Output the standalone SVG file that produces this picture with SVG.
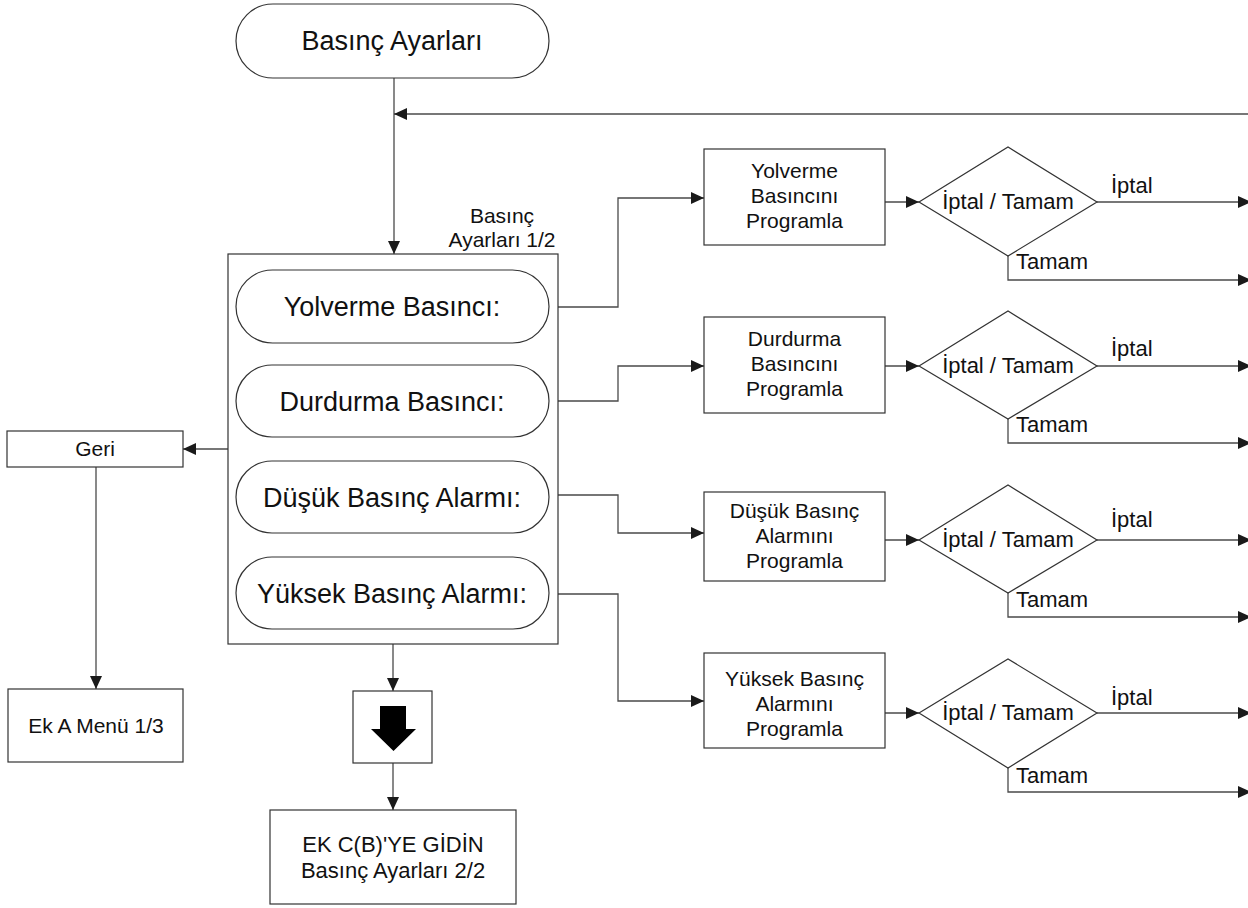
<svg xmlns="http://www.w3.org/2000/svg" width="1248" height="908" viewBox="0 0 1248 908">
  <defs>
    <marker id="ah" viewBox="0 0 13 12" refX="13" refY="6" markerWidth="13" markerHeight="12" markerUnits="userSpaceOnUse" orient="auto">
      <path d="M0,0 L13,6 L0,12 Z" fill="#1a1a1a"/>
    </marker>
    <style>
      .shape { fill: #ffffff; stroke: #333333; stroke-width: 1.2; }
      .conn { fill: none; stroke: #4a4a4a; stroke-width: 1.3; marker-end: url(#ah); }
      text { font-family: "Liberation Sans", Arial, sans-serif; fill: #111111; }
      .c { text-anchor: middle; }
      .big { font-size: 27px; }
      .mid { font-size: 21px; }
      .dec { font-size: 22px; }
    </style>
  </defs>

  <rect width="1248" height="908" fill="#ffffff"/>

  <!-- connectors -->
  <g id="connectors">
    <path class="conn" d="M394,78 L394,254"/>
    <path class="conn" d="M1248,114 L394,114"/>
    <path class="conn" d="M228,449 L183,449"/>
    <path class="conn" d="M96,467 L96,689"/>
    <path class="conn" d="M393,644 L393,691"/>
    <path class="conn" d="M393,763 L393,810"/>

    <!-- menu items to programming boxes -->
    <path class="conn" d="M558,307 L618,307 L618,198 L704,198"/>
    <path class="conn" d="M558,401 L618,401 L618,366 L704,366"/>
    <path class="conn" d="M558,495 L618,495 L618,533 L704,533"/>
    <path class="conn" d="M558,594 L618,594 L618,701 L704,701"/>

    <!-- programming boxes to decisions -->
    <path class="conn" d="M885,202 L919,202"/>
    <path class="conn" d="M885,366 L919,366"/>
    <path class="conn" d="M885,540 L919,540"/>
    <path class="conn" d="M885,713 L919,713"/>

    <!-- decision outputs -->
    <path class="conn" d="M1097,202 L1251,202"/>
    <path class="conn" d="M1008,256 L1008,280 L1251,280"/>
    <path class="conn" d="M1097,366 L1251,366"/>
    <path class="conn" d="M1008,419 L1008,443 L1251,443"/>
    <path class="conn" d="M1097,540 L1251,540"/>
    <path class="conn" d="M1008,593 L1008,617 L1251,617"/>
    <path class="conn" d="M1097,713 L1251,713"/>
    <path class="conn" d="M1008,768 L1008,792 L1251,792"/>

    <text class="dec" x="1111" y="193">İptal</text>
    <text class="dec" x="1016" y="269">Tamam</text>
    <text class="dec" x="1111" y="356">İptal</text>
    <text class="dec" x="1016" y="432">Tamam</text>
    <text class="dec" x="1111" y="527">İptal</text>
    <text class="dec" x="1016" y="607">Tamam</text>
    <text class="dec" x="1111" y="705">İptal</text>
    <text class="dec" x="1016" y="783">Tamam</text>
  </g>

  <!-- start terminal -->
  <g id="start">
    <rect class="shape" x="236" y="4" width="313" height="74" rx="37" ry="37"/>
    <text class="c big" x="392" y="50">Basınç Ayarları</text>
  </g>

  <!-- menu page 1/2 -->
  <g id="menu">
    <rect class="shape" x="228" y="254" width="330" height="390"/>
    <text class="c mid" x="502" y="223">Basınç</text>
    <text class="c mid" x="502" y="247">Ayarları 1/2</text>
  </g>
  <g id="item-yolverme">
    <rect class="shape" x="236" y="270" width="313" height="73" rx="36.5" ry="36.5"/>
    <text class="c big" x="392" y="316">Yolverme Basıncı:</text>
  </g>
  <g id="item-durdurma">
    <rect class="shape" x="236" y="365" width="313" height="72" rx="36" ry="36"/>
    <text class="c big" x="392" y="411">Durdurma Basıncı:</text>
  </g>
  <g id="item-dusuk">
    <rect class="shape" x="236" y="461" width="313" height="72" rx="36" ry="36"/>
    <text class="c big" x="392" y="507">Düşük Basınç Alarmı:</text>
  </g>
  <g id="item-yuksek">
    <rect class="shape" x="236" y="557" width="313" height="72" rx="36" ry="36"/>
    <text class="c big" x="392" y="603">Yüksek Basınç Alarmı:</text>
  </g>

  <!-- back path -->
  <g id="geri">
    <rect class="shape" x="7" y="431" width="176" height="36"/>
    <text class="c mid" x="95" y="456">Geri</text>
  </g>
  <g id="ek-a">
    <rect class="shape" x="8" y="689" width="175" height="73"/>
    <text class="c mid" x="96" y="733">Ek A Menü 1/3</text>
  </g>

  <!-- scroll down key -->
  <g id="down-key">
    <rect class="shape" x="353" y="691" width="79" height="72"/>
    <path d="M380,706 L406,706 L406,729 L416,729 L393.5,751 L371,729 L380,729 Z" fill="#000000"/>
  </g>
  <g id="ek-c">
    <rect class="shape" x="270" y="810" width="246" height="94"/>
    <text class="c dec" x="393" y="852">EK C(B)'YE GİDİN</text>
    <text class="c dec" x="393" y="878">Basınç Ayarları 2/2</text>
  </g>

  <!-- programming boxes -->
  <g id="prog-yolverme">
    <rect class="shape" x="704" y="149" width="181" height="96"/>
    <text class="c mid" x="794.5" y="178">Yolverme</text>
    <text class="c mid" x="794.5" y="203">Basıncını</text>
    <text class="c mid" x="794.5" y="228">Programla</text>
  </g>
  <g id="prog-durdurma">
    <rect class="shape" x="704" y="317" width="181" height="96"/>
    <text class="c mid" x="794.5" y="346">Durdurma</text>
    <text class="c mid" x="794.5" y="371">Basıncını</text>
    <text class="c mid" x="794.5" y="396">Programla</text>
  </g>
  <g id="prog-dusuk">
    <rect class="shape" x="704" y="492" width="181" height="89"/>
    <text class="c mid" x="794.5" y="518">Düşük Basınç</text>
    <text class="c mid" x="794.5" y="543">Alarmını</text>
    <text class="c mid" x="794.5" y="568">Programla</text>
  </g>
  <g id="prog-yuksek">
    <rect class="shape" x="704" y="653" width="181" height="95"/>
    <text class="c mid" x="794.5" y="686">Yüksek Basınç</text>
    <text class="c mid" x="794.5" y="711">Alarmını</text>
    <text class="c mid" x="794.5" y="736">Programla</text>
  </g>

  <!-- decisions -->
  <g id="dec-yolverme">
    <polygon class="shape" points="919,202 1008,147 1097,202 1008,256"/>
    <text class="c dec" x="1008" y="209">İptal / Tamam</text>
  </g>
  <g id="dec-durdurma">
    <polygon class="shape" points="919,366 1008,311 1097,366 1008,419"/>
    <text class="c dec" x="1008" y="373">İptal / Tamam</text>
  </g>
  <g id="dec-dusuk">
    <polygon class="shape" points="919,540 1008,485 1097,540 1008,593"/>
    <text class="c dec" x="1008" y="547">İptal / Tamam</text>
  </g>
  <g id="dec-yuksek">
    <polygon class="shape" points="919,713 1008,659 1097,713 1008,768"/>
    <text class="c dec" x="1008" y="720">İptal / Tamam</text>
  </g>
</svg>
